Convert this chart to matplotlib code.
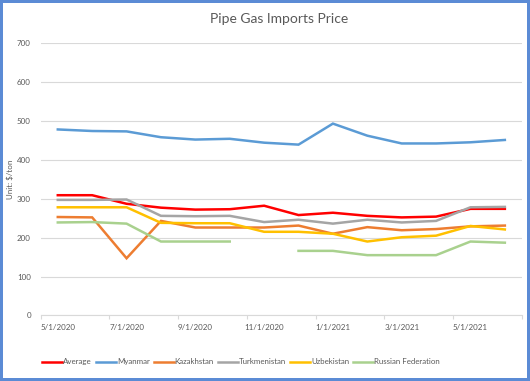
import matplotlib.pyplot as plt
import numpy as np

plt.rcParams['font.family'] = ['Lato', 'DejaVu Sans']

months = ['5/1/2020', '6/1/2020', '7/1/2020', '8/1/2020', '9/1/2020', '10/1/2020',
          '11/1/2020', '12/1/2020', '1/1/2021', '2/1/2021', '3/1/2021', '4/1/2021',
          '5/1/2021', '6/1/2021']

average = [309, 309, 287, 277, 272, 273, 282, 258, 264, 256, 252, 254, 274, 274]
myanmar = [478, 474, 473, 458, 452, 454, 444, 439, 493, 462, 442, 442, 445, 451]
kazakhstan = [253, 252, 147, 243, 226, 226, 226, 231, 210, 227, 219, 222, 229, 231]
turkmenistan = [297, 297, 298, 256, 255, 256, 240, 246, 236, 246, 239, 243, 278, 279]
uzbekistan = [278, 278, 278, 238, 237, 237, 215, 215, 210, 190, 201, 205, 230, 221]
russia = [239, 240, 236, 190, 190, 190, np.nan, 166, 166, 155, 155, 155, 190, 187]

series = [
    ('Average', average, '#FF0000'),
    ('Myanmar', myanmar, '#5B9BD5'),
    ('Kazakhstan', kazakhstan, '#ED7D31'),
    ('Turkmenistan', turkmenistan, '#A5A5A5'),
    ('Uzbekistan', uzbekistan, '#FFC000'),
    ('Russian Federation', russia, '#A9D18E'),
]

fig = plt.figure(figsize=(5.3, 3.81), dpi=100, linewidth=3, edgecolor='#5B8BD5')
ax = fig.add_axes([0.0766, 0.172, 0.9084, 0.715])

x = np.arange(len(months))
for name, vals, color in series:
    ax.plot(x, vals, color=color, lw=1.8, label=name, solid_joinstyle='miter')

ax.set_xlim(-0.5, len(months) - 0.5)
ax.set_ylim(0, 700)
ax.set_yticks(range(0, 701, 100))
ax.set_xticks(x[::2])
ax.set_xticklabels(months[::2])
ax.set_xticks(np.arange(-0.5, len(months), 2), minor=True)

ax.grid(axis='y', color='#D9D9D9', lw=0.8)
ax.set_axisbelow(True)
for side in ['top', 'right', 'left']:
    ax.spines[side].set_visible(False)
ax.spines['bottom'].set_color('#D9D9D9')
ax.spines['bottom'].set_linewidth(0.8)

ax.tick_params(axis='both', which='major', length=0, labelsize=5.8, colors='#595959')
ax.tick_params(axis='x', which='major', pad=6)
ax.tick_params(axis='y', which='major', pad=7)
ax.tick_params(axis='x', which='minor', length=3, color='#D9D9D9', width=0.8)

ax.set_ylabel('Unit: $/ton', fontsize=5.8, color='#595959')
ax.yaxis.set_label_coords(-0.056, 0.5)
fig.text(0.527, 0.951, 'Pipe Gas Imports Price', ha='center', va='center',
         fontsize=10, color='#595959')

fig.legend(loc='center', bbox_to_anchor=(0.455, 0.05), ncol=6, frameon=False,
           fontsize=5.7, handlelength=2.5, handletextpad=0.15, columnspacing=0.5,
           labelcolor='#595959')

fig.savefig('out.png', dpi=100)
